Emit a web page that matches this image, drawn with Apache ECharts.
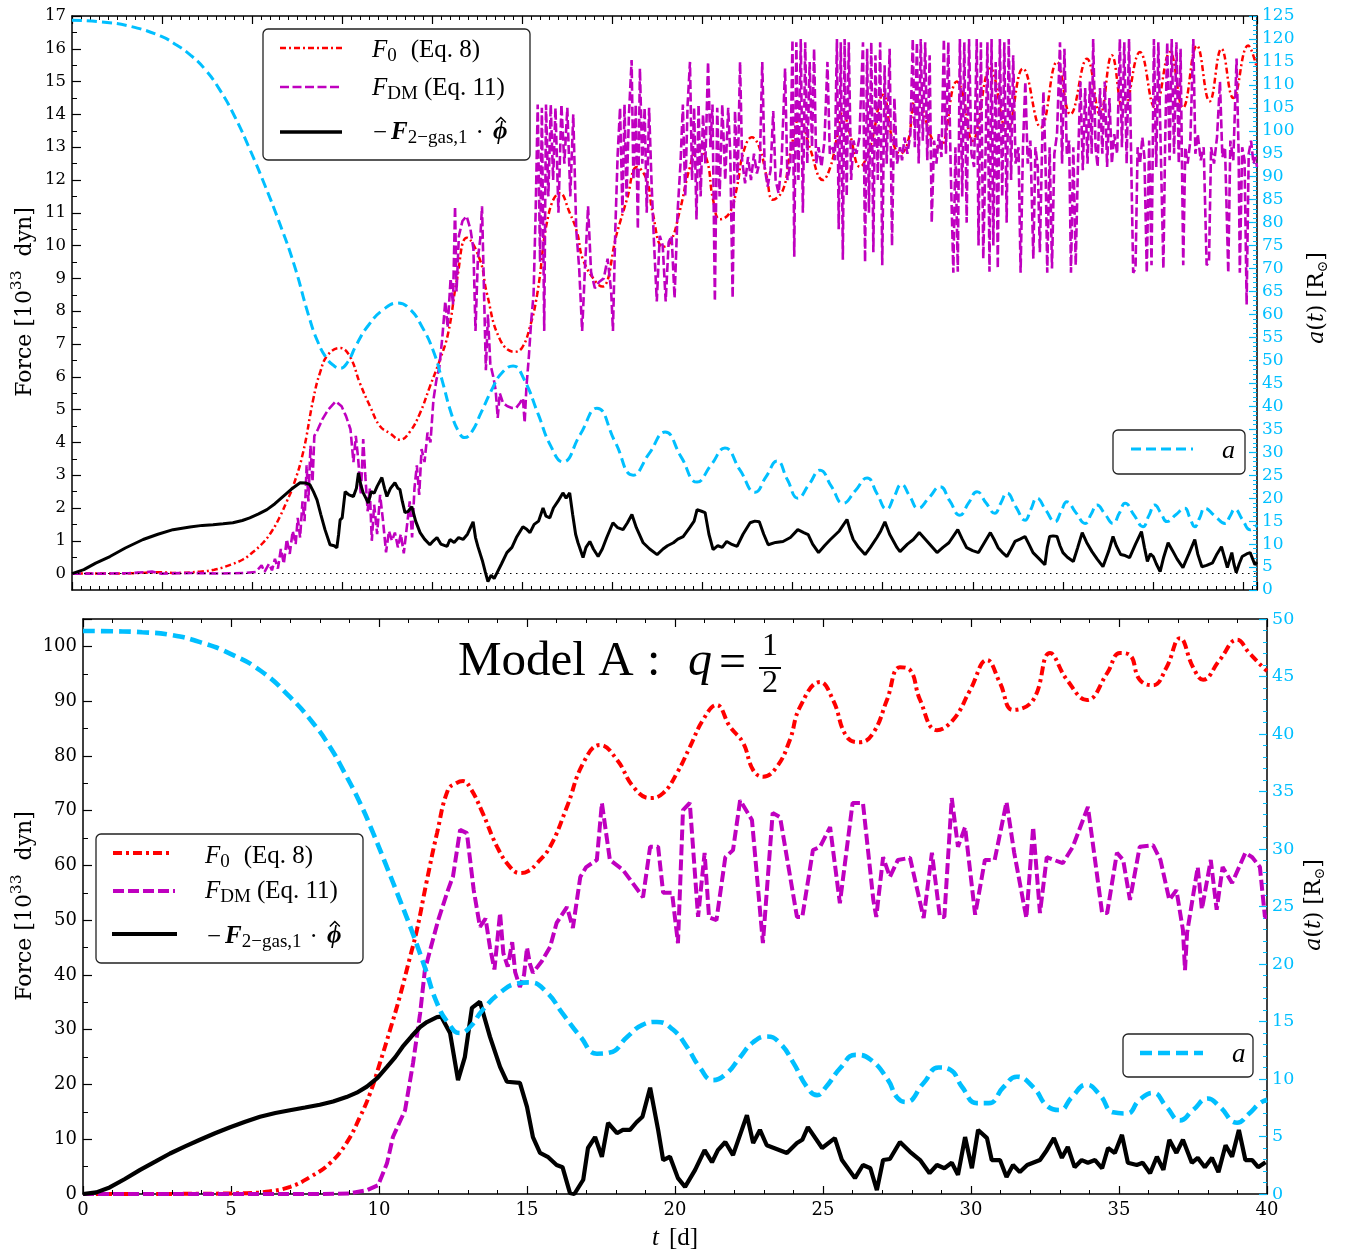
<!DOCTYPE html>
<html>
<head>
<meta charset="utf-8">
<script src="https://cdn.jsdelivr.net/npm/echarts@6/dist/echarts.min.js"></script>
<style>
  html, body { margin: 0; padding: 0; background: #fff; }
  #chart { width: 1346px; height: 1256px; }
</style>
</head>
<body>
<div id="chart"></div>
<script>
// ---------------- data: upper panel ----------------
// time t [d], separation a(t) [R_sun]
const topA = [[0,124.1],[1,123.7],[2,122.7],[3,120.6],[3.5,118.8],[4,116.5],[4.5,113.3],[5,108.8],[5.5,103.0],[6,96.0],[6.5,88.3],[7,80.0],[7.5,70.8],[8,59.5],[8.3,54.0],[8.6,50.4],[8.85,48.8],[9.05,48.3],[9.3,49.6],[9.6,53.4],[10,57.6],[10.5,61.0],[11,62.5],[11.4,61.2],[11.8,57.5],[12.2,52.0],[12.5,45.5],[12.8,38.5],[13.05,34.5],[13.25,33.2],[13.5,34.5],[13.8,38.5],[14.2,44.0],[14.5,47.2],[14.89,48.8],[15.25,46.0],[15.73,38.4],[16.15,31.5],[16.57,27.9],[17.15,33.8],[17.72,39.6],[18.33,32.3],[18.94,25.0],[19.48,29.7],[20.02,34.4],[20.56,29.0],[21.1,23.5],[21.57,27.2],[22.04,30.9],[22.55,26.1],[23.06,21.3],[23.43,24.7],[23.8,28.1],[24.15,24.0],[24.5,20.0],[24.88,23.0],[25.25,26.1],[25.64,22.5],[26.03,18.9],[26.44,21.6],[26.84,24.4],[27.17,21.0],[27.5,17.6],[27.75,20.3],[28.0,23.0],[28.28,20.4],[28.56,17.8],[28.93,20.1],[29.3,22.5],[29.63,19.4],[29.97,16.3],[30.26,18.9],[30.55,21.4],[30.85,19.0],[31.15,16.7],[31.35,18.9],[31.56,21.1],[31.86,18.1],[32.17,15.2],[32.37,17.6],[32.57,20.0],[32.87,17.4],[33.18,14.9],[33.38,17.0],[33.58,19.2],[33.89,16.8],[34.2,14.5],[34.4,16.5],[34.6,18.5],[34.87,16.5],[35.14,14.5],[35.35,16.7],[35.55,18.9],[35.85,16.3],[36.15,13.8],[36.35,16.2],[36.55,18.5],[36.76,16.7],[36.96,14.9],[37.26,16.4],[37.56,17.8],[37.73,15.8],[37.9,13.8],[38.07,15.8],[38.24,17.8],[38.58,16.1],[38.92,14.5],[39.09,16.1],[39.25,17.6],[39.51,15.3],[39.77,13.1],[40,14.2]];

// F_0 (Eq. 8) [1e33 dyn]
const topF0 = [[0,0],[1,0],[2,0.01],[3,0.04],[3.5,0.02],[4.32,0.06],[4.8,0.12],[5.2,0.22],[5.77,0.43],[6.1,0.65],[6.45,0.94],[6.75,1.3],[7.02,1.74],[7.25,2.2],[7.46,2.65],[7.8,3.69],[8.14,5.3],[8.37,6.12],[8.64,6.67],[9.05,6.88],[9.38,6.62],[9.72,5.8],[10.06,5.1],[10.4,4.49],[10.73,4.28],[11.07,4.08],[11.41,4.33],[11.75,4.9],[12.08,5.7],[12.42,6.52],[12.7,7.34],[13.0,9.0],[13.33,10.24],[13.77,9.57],[14.0,8.56],[14.45,7.13],[14.95,6.76],[15.2,6.9],[15.46,7.53],[15.7,8.5],[16.1,11.0],[16.47,11.6],[16.8,11.0],[17.05,10.4],[17.25,9.57],[17.7,8.87],[17.9,8.75],[18.4,10.4],[18.73,11.4],[19.07,12.4],[19.4,12.0],[19.6,11.0],[19.95,9.96],[20.2,10.1],[20.5,11.0],[20.86,12.4],[21.1,12.9],[21.4,12.7],[21.64,11.4],[21.87,10.8],[22.2,11.0],[22.45,11.8],[22.65,12.8],[22.95,13.3],[23.2,13.0],[23.45,12.1],[23.66,11.4],[24.0,11.7],[24.24,12.8],[24.57,13.9],[24.9,13.0],[25.35,12.0],[25.6,12.4],[25.8,13.2],[26.02,14.1],[26.26,13.4],[26.6,12.4],[26.94,13.0],[27.38,14.6],[27.7,13.2],[27.95,12.8],[28.2,13.1],[28.5,14.5],[29.1,13.1],[29.3,13.0],[29.87,15.0],[30.05,14.7],[30.4,13.2],[31.0,15.4],[31.56,13.5],[32.1,15.4],[32.7,13.6],[33.25,15.6],[33.7,14.0],[34.26,15.7],[34.7,14.0],[35.1,15.8],[35.5,14.1],[36.05,15.9],[36.56,14.2],[37.06,15.9],[37.5,14.2],[37.97,16.1],[38.4,14.4],[38.8,16.0],[39.2,14.5],[39.7,16.1],[40,15.4]];

// F_DM (Eq. 11) [1e33 dyn]
const topFDM = [[0,0],[1,0],[1.9,0.01],[2.7,0.06],[3.0,0],[4,0.02],[5,0],[5.8,0.02],[6.2,0.05],[6.4,0.25],[6.5,0.05],[6.65,0.3],[6.75,0.1],[6.85,0.45],[6.95,0.15],[7.05,0.75],[7.15,0.3],[7.25,1.05],[7.35,0.6],[7.45,1.3],[7.55,0.9],[7.62,1.7],[7.7,1.1],[7.78,2.2],[7.85,1.6],[7.92,3.3],[7.98,2.2],[8.05,3.9],[8.12,2.8],[8.18,4.2],[8.3,4.4],[8.45,4.7],[8.65,5.0],[8.9,5.25],[9.1,5.1],[9.25,4.8],[9.4,4.4],[9.5,3.4],[9.58,4.2],[9.66,3.5],[9.75,2.4],[9.83,4.1],[9.9,3.0],[9.98,1.9],[10.05,2.6],[10.12,1.0],[10.2,2.1],[10.3,1.2],[10.4,2.4],[10.5,1.6],[10.6,0.65],[10.7,1.3],[10.8,1.0],[10.9,1.25],[11.0,0.8],[11.1,1.2],[11.2,0.62],[11.3,1.4],[11.4,2.2],[11.48,1.1],[11.56,2.6],[11.64,3.3],[11.72,2.4],[11.8,3.8],[11.9,3.4],[12.0,4.3],[12.1,4.0],[12.2,5.3],[12.3,5.9],[12.4,6.3],[12.5,7.2],[12.6,8.3],[12.68,7.5],[12.78,9.0],[12.86,8.2],[12.93,11.2],[12.98,8.6],[13.06,10.3],[13.18,10.75],[13.32,10.9],[13.45,10.5],[13.55,9.9],[13.62,7.4],[13.7,9.6],[13.78,10.2],[13.84,11.2],[13.9,8.9],[13.97,6.2],[14.04,7.9],[14.12,6.4],[14.22,6.0],[14.3,5.6],[14.37,4.75],[14.44,5.5],[14.55,5.2],[14.7,5.1],[14.85,5.05],[15.0,5.06],[15.12,5.2],[15.22,5.35],[15.28,4.6],[15.34,5.7],[15.42,6.6],[15.5,7.7],[15.58,8.5],[15.65,11.0],[15.72,14.3],[15.8,9.5],[15.86,14.2],[15.94,7.4],[16.0,14.3],[16.08,11.5],[16.16,14.3],[16.24,12.0],[16.32,14.2],[16.42,11.0],[16.52,14.3],[16.62,12.5],[16.72,14.2],[16.82,11.5],[16.92,14.0],[17.02,10.5],[17.12,9.3],[17.22,7.4],[17.32,9.4],[17.42,11.2],[17.52,9.2],[17.65,8.7],[17.8,8.9],[17.95,9.0],[18.08,9.6],[18.2,8.6],[18.26,7.4],[18.34,10.5],[18.42,12.8],[18.5,14.2],[18.58,11.0],[18.65,14.3],[18.72,11.5],[18.8,14.0],[18.89,15.66],[18.95,12.0],[19.03,14.3],[19.1,10.5],[19.17,15.4],[19.25,12.5],[19.33,14.2],[19.4,11.0],[19.48,14.2],[19.56,12.0],[19.64,10.2],[19.74,8.3],[19.84,10.3],[19.94,10.0],[20.04,8.3],[20.14,10.1],[20.24,10.3],[20.34,8.4],[20.44,11.0],[20.54,12.5],[20.62,14.3],[20.7,11.5],[20.78,14.3],[20.86,15.6],[20.93,12.0],[21.0,14.2],[21.08,10.8],[21.15,14.3],[21.22,11.5],[21.3,14.0],[21.38,12.5],[21.47,15.6],[21.55,13.0],[21.62,14.3],[21.7,8.3],[21.78,14.2],[21.86,11.5],[21.95,14.3],[22.05,12.0],[22.15,14.2],[22.22,12.8],[22.3,8.4],[22.38,14.1],[22.47,12.0],[22.55,15.6],[22.62,12.6],[22.72,11.9],[22.82,12.7],[22.92,12.0],[23.02,12.8],[23.12,12.2],[23.22,12.6],[23.3,15.6],[23.38,12.4],[23.48,11.8],[23.58,12.3],[23.67,14.1],[23.75,12.0],[23.85,11.6],[23.95,12.5],[24.07,15.4],[24.15,12.0],[24.25,12.5],[24.32,16.27],[24.38,9.66],[24.45,16.2],[24.52,12.0],[24.6,16.3],[24.67,11.0],[24.75,16.2],[24.82,12.5],[24.9,15.6],[24.98,13.0],[25.05,16.0],[25.12,12.5],[25.2,13.0],[25.3,12.4],[25.4,13.2],[25.5,15.6],[25.58,12.8],[25.68,13.0],[25.75,12.6],[25.82,16.3],[25.88,10.5],[25.95,16.2],[26.02,9.57],[26.08,16.3],[26.15,11.5],[26.22,16.2],[26.3,12.0],[26.38,13.2],[26.48,12.8],[26.58,13.3],[26.7,16.2],[26.77,9.5],[26.84,16.0],[26.9,11.0],[26.98,16.2],[27.05,9.8],[27.12,15.8],[27.2,12.0],[27.28,16.2],[27.35,9.4],[27.43,15.5],[27.5,12.5],[27.6,16.0],[27.68,10.0],[27.76,14.5],[27.85,12.5],[27.95,13.0],[28.02,12.6],[28.1,13.3],[28.2,12.8],[28.3,13.4],[28.38,16.3],[28.45,13.0],[28.52,16.2],[28.58,12.5],[28.65,16.3],[28.72,13.2],[28.8,16.2],[28.87,12.6],[28.95,15.8],[29.02,10.7],[29.1,13.2],[29.18,12.5],[29.26,13.4],[29.35,12.7],[29.43,16.3],[29.5,12.8],[29.58,16.2],[29.66,12.4],[29.75,9.17],[29.82,13.0],[29.9,9.2],[29.97,16.3],[30.05,11.5],[30.12,16.2],[30.2,10.7],[30.28,16.3],[30.36,12.8],[30.45,12.4],[30.54,16.3],[30.6,10.0],[30.68,16.2],[30.76,9.6],[30.84,13.0],[30.9,16.2],[30.97,9.2],[31.04,16.3],[31.1,10.0],[31.18,15.6],[31.25,9.3],[31.32,16.3],[31.4,11.5],[31.47,16.2],[31.55,10.7],[31.62,16.3],[31.7,12.0],[31.77,15.8],[31.85,12.5],[31.95,13.0],[32.02,9.17],[32.1,13.0],[32.18,15.0],[32.26,12.5],[32.35,13.2],[32.45,9.6],[32.52,13.0],[32.6,12.4],[32.67,9.8],[32.75,13.2],[32.79,14.7],[32.86,12.6],[32.92,9.17],[33.0,13.0],[33.08,9.3],[33.16,12.8],[33.25,13.4],[33.35,16.2],[33.42,12.5],[33.5,16.0],[33.58,12.8],[33.66,13.2],[33.72,9.17],[33.8,13.0],[33.88,9.4],[33.96,12.6],[34.04,15.0],[34.12,12.3],[34.2,14.8],[34.28,12.5],[34.36,15.0],[34.42,12.8],[34.47,16.3],[34.55,13.0],[34.62,12.4],[34.7,14.8],[34.78,12.8],[34.86,15.0],[34.94,12.4],[35.02,14.5],[35.1,12.5],[35.18,13.4],[35.28,12.8],[35.37,16.3],[35.44,13.0],[35.52,16.2],[35.6,12.5],[35.68,16.3],[35.75,12.8],[35.82,9.17],[35.9,9.3],[35.97,13.0],[36.05,12.5],[36.13,13.3],[36.2,12.7],[36.28,9.17],[36.36,13.2],[36.44,9.4],[36.52,16.3],[36.6,12.4],[36.67,16.2],[36.75,13.0],[36.84,9.3],[36.9,13.2],[36.97,16.2],[37.05,12.6],[37.12,16.3],[37.2,12.8],[37.28,16.2],[37.36,12.5],[37.42,16.0],[37.51,9.4],[37.58,13.0],[37.66,12.5],[37.75,13.2],[37.85,16.3],[37.92,12.8],[38.0,13.4],[38.1,12.6],[38.2,13.0],[38.3,9.4],[38.38,9.5],[38.45,13.0],[38.55,12.5],[38.65,13.3],[38.75,15.0],[38.83,12.7],[38.92,13.0],[39.03,9.17],[39.1,13.2],[39.2,12.6],[39.31,15.7],[39.38,12.8],[39.42,9.17],[39.5,13.0],[39.58,12.6],[39.65,8.2],[39.72,12.8],[39.8,13.2],[39.88,12.5],[39.95,12.7],[40,12.4]];

// -F_{2-gas,1} . phi-hat [1e33 dyn]
const topFgas = [[0,0],[0.4,0.12],[0.8,0.32],[1.28,0.52],[1.8,0.78],[2.4,1.04],[2.9,1.2],[3.41,1.34],[3.98,1.42],[4.4,1.47],[4.76,1.49],[5.1,1.52],[5.43,1.55],[5.75,1.62],[6.0,1.7],[6.3,1.82],[6.58,1.95],[6.85,2.13],[7.12,2.35],[7.4,2.57],[7.7,2.77],[7.9,2.76],[8.03,2.71],[8.15,2.5],[8.27,2.25],[8.4,1.8],[8.54,1.34],[8.71,0.88],[8.85,0.85],[8.94,0.79],[9.0,1.2],[9.05,1.64],[9.12,1.7],[9.22,2.5],[9.35,2.4],[9.5,2.35],[9.6,2.6],[9.67,3.07],[9.75,2.7],[9.83,2.46],[9.92,2.3],[10.0,2.15],[10.1,2.5],[10.2,2.45],[10.3,2.66],[10.46,2.93],[10.55,2.6],[10.63,2.35],[10.75,2.6],[10.9,2.77],[11.0,2.6],[11.07,2.56],[11.15,2.2],[11.24,1.86],[11.35,1.9],[11.47,2.04],[11.6,1.6],[11.75,1.25],[11.9,1.05],[12.08,0.88],[12.2,1.0],[12.32,1.1],[12.45,0.9],[12.66,0.83],[12.76,1.04],[12.9,0.95],[13.05,1.1],[13.2,1.04],[13.35,1.2],[13.54,1.58],[13.62,1.1],[13.7,0.83],[13.85,0.4],[13.95,0.05],[14.04,-0.24],[14.15,-0.05],[14.25,-0.15],[14.35,0.03],[14.5,0.3],[14.68,0.64],[14.85,0.8],[15.0,1.1],[15.22,1.43],[15.35,1.35],[15.46,1.25],[15.6,1.5],[15.75,1.6],[15.9,2.0],[16.0,1.75],[16.13,1.7],[16.25,2.0],[16.4,2.2],[16.57,2.46],[16.68,2.3],[16.8,2.46],[16.9,1.8],[17.0,1.2],[17.08,0.94],[17.25,0.49],[17.35,0.8],[17.48,0.98],[17.6,0.75],[17.76,0.52],[17.9,0.75],[18.05,1.1],[18.26,1.55],[18.42,1.4],[18.6,1.34],[18.75,1.55],[18.9,1.8],[19.05,1.4],[19.28,0.94],[19.5,0.75],[19.75,0.58],[19.95,0.75],[20.1,0.85],[20.3,0.94],[20.45,1.05],[20.63,1.13],[20.85,1.4],[21.0,1.6],[21.1,1.95],[21.25,1.9],[21.37,1.86],[21.5,1.2],[21.64,0.73],[21.8,0.85],[21.95,0.8],[22.1,0.98],[22.25,0.9],[22.45,0.83],[22.65,1.2],[22.89,1.55],[23.05,1.6],[23.2,1.58],[23.35,1.2],[23.5,0.88],[23.75,0.95],[24.0,0.98],[24.25,1.1],[24.5,1.34],[24.7,1.25],[24.85,1.19],[25.0,0.9],[25.2,0.64],[25.4,0.85],[25.6,1.04],[25.9,1.3],[26.16,1.65],[26.27,1.3],[26.37,1.04],[26.55,0.8],[26.77,0.58],[26.95,0.8],[27.17,1.1],[27.3,1.3],[27.44,1.58],[27.6,1.2],[27.85,0.79],[27.95,0.67],[28.2,0.9],[28.4,1.04],[28.6,1.25],[28.9,0.95],[29.2,0.64],[29.4,0.8],[29.6,0.94],[29.9,1.34],[30.05,1.05],[30.2,0.79],[30.4,0.7],[30.6,0.64],[30.8,0.95],[31.0,1.25],[31.15,1.0],[31.26,0.79],[31.4,0.65],[31.56,0.52],[31.7,0.75],[31.83,0.98],[32.0,1.05],[32.17,1.13],[32.3,0.9],[32.44,0.64],[32.65,0.45],[32.84,0.27],[32.92,0.8],[33.0,1.13],[33.12,1.15],[33.25,1.13],[33.35,0.85],[33.45,0.64],[33.6,0.5],[33.8,0.37],[33.95,0.8],[34.1,1.25],[34.25,0.95],[34.43,0.67],[34.6,0.45],[34.8,0.21],[35.0,0.7],[35.14,1.13],[35.25,0.85],[35.4,0.58],[35.55,0.55],[35.7,0.49],[35.9,0.9],[36.1,1.28],[36.2,0.8],[36.3,0.37],[36.4,0.6],[36.5,0.52],[36.6,0.3],[36.73,0.06],[36.85,0.5],[37.0,0.94],[37.15,0.7],[37.3,0.45],[37.5,0.18],[37.7,0.6],[37.9,1.04],[38.0,0.6],[38.14,0.21],[38.3,0.25],[38.5,0.33],[38.65,0.6],[38.8,0.82],[38.9,0.5],[39.0,0.18],[39.15,0.64],[39.22,0.3],[39.3,0.03],[39.4,0.3],[39.5,0.52],[39.65,0.6],[39.77,0.64],[39.93,0.27],[40,0.35]];

// ---------------- data: lower panel (Model A, q = 1/2) ----------------
const botA = [[0,48.96],[1,48.93],[2,48.85],[3,48.6],[4,47.95],[5,46.95],[6,45.5],[7,43.2],[7.77,40.96],[8.34,38.9],[8.78,36.9],[9.36,34.0],[9.8,31.4],[10.27,28.4],[10.7,25.6],[11.15,22.6],[11.55,19.7],[11.96,16.6],[12.33,14.9],[12.74,14.0],[13.07,14.5],[13.5,16.0],[14.09,17.5],[14.66,18.3],[15.1,18.4],[15.68,17.5],[16.2,15.7],[16.8,13.7],[17.36,12.2],[17.8,12.3],[18.4,13.7],[18.9,14.7],[19.39,14.96],[19.93,14.3],[20.4,12.8],[20.84,11.0],[21.28,9.9],[21.75,10.5],[22.2,11.9],[22.64,13.2],[23.1,13.7],[23.55,13.1],[24.0,11.4],[24.46,9.3],[24.8,8.6],[25.1,9.3],[25.6,11.0],[26.1,12.1],[26.6,11.7],[27.2,9.9],[27.5,8.4],[27.8,8.0],[28.4,9.65],[28.9,11.0],[29.3,10.8],[29.7,9.3],[30.2,7.9],[30.6,7.9],[31.1,9.3],[31.55,10.2],[32.1,9.3],[32.6,7.6],[33.0,7.3],[33.4,8.4],[33.9,9.5],[34.36,8.6],[34.8,7.1],[35.26,7.0],[35.7,8.2],[36.15,8.8],[36.6,7.6],[37.06,6.4],[37.5,7.3],[38.0,8.3],[38.4,7.6],[38.99,6.2],[39.4,7.0],[39.76,7.9],[40,8.2]];

const botF0 = [[0,0],[2,0],[4,0.05],[5,0.1],[5.7,0.2],[6.2,0.4],[7.0,1.3],[7.67,3.1],[8.34,5.6],[8.9,9.3],[9.36,14.1],[9.7,18.4],[10.03,23.9],[10.37,29.9],[10.7,36.0],[11.05,43.3],[11.28,48.2],[11.6,56.8],[11.96,65.9],[12.33,73.8],[12.6,75.0],[12.84,75.4],[13.1,74.0],[13.5,69.6],[13.99,63.4],[14.43,59.7],[14.76,58.6],[15.05,59.0],[15.34,60.4],[15.78,63.4],[16.35,70.7],[16.9,78.7],[17.47,82.0],[18.04,79.3],[18.6,74.3],[19.16,72.3],[19.6,73.2],[20.07,76.9],[20.5,81.6],[20.95,86.6],[21.4,89.3],[21.86,85.3],[22.3,82.4],[22.64,77.4],[22.98,76.2],[23.44,78.0],[23.88,82.9],[24.22,88.9],[24.9,93.5],[25.34,90.2],[25.8,83.5],[26.25,82.5],[26.7,84.2],[27.16,90.2],[27.6,96.2],[27.94,95.7],[28.28,90.2],[28.85,84.7],[29.4,86.6],[29.97,92.0],[30.54,97.5],[30.98,93.3],[31.42,88.4],[32.1,90.2],[32.67,98.8],[33.24,93.9],[33.92,90.2],[34.6,95.1],[35.03,98.8],[35.37,98.4],[35.7,93.9],[36.15,92.9],[36.6,96.1],[37.06,101.5],[37.5,96.2],[37.84,93.9],[38.4,97.5],[38.99,101.2],[39.4,98.8],[39.86,96.2],[40,95.5]];

const botFDM = [[0,0],[3,0],[6,0],[8,0],[9.0,0.1],[9.6,0.7],[9.97,1.6],[10.27,5.6],[10.47,10.4],[10.88,15.3],[11.15,23.9],[11.39,33.0],[11.55,40.9],[11.75,45.0],[12.0,50.0],[12.33,55.5],[12.5,58.0],[12.74,66.5],[12.97,65.9],[13.2,55.5],[13.41,48.8],[13.6,50.3],[13.75,45.0],[13.9,41.0],[14.09,51.3],[14.2,44.0],[14.35,41.5],[14.5,46.0],[14.6,40.5],[14.76,37.8],[14.9,40.0],[15.0,45.0],[15.1,42.0],[15.2,40.4],[15.5,42.5],[15.78,45.1],[16.0,49.5],[16.35,52.4],[16.55,48.6],[16.8,57.9],[17.0,59.7],[17.36,61.0],[17.53,71.4],[17.8,61.0],[18.24,59.2],[18.92,54.2],[19.16,63.4],[19.43,63.4],[19.6,55.0],[19.9,55.0],[20.1,45.8],[20.27,70.1],[20.5,71.4],[20.78,50.6],[21.0,62.3],[21.15,50.5],[21.4,50.0],[21.7,61.5],[21.96,62.8],[22.2,71.9],[22.6,68.3],[22.97,45.8],[23.3,69.6],[23.55,68.8],[24.12,50.6],[24.3,50.6],[24.66,62.8],[24.9,63.4],[25.24,67.0],[25.57,53.1],[26.0,71.4],[26.35,71.4],[26.7,53.7],[26.8,50.6],[27.03,61.5],[27.26,57.9],[27.53,61.0],[27.94,61.4],[28.4,50.4],[28.68,62.3],[28.95,50.6],[29.1,50.6],[29.35,72.3],[29.56,63.4],[29.8,67.0],[30.14,51.0],[30.47,61.0],[30.8,61.0],[31.2,71.6],[31.46,62.3],[31.87,50.4],[32.1,67.0],[32.33,51.3],[32.56,61.5],[33.1,60.4],[33.44,63.4],[33.95,70.7],[34.43,51.3],[34.6,51.3],[34.93,62.3],[35.14,61.0],[35.37,53.7],[35.7,63.4],[36.15,63.7],[36.4,61.0],[36.7,53.7],[36.94,55.5],[37.16,48.2],[37.23,40.9],[37.3,47.7],[37.66,59.7],[37.8,52.0],[38.1,61.0],[38.3,51.9],[38.5,59.7],[38.82,56.8],[39.27,62.3],[39.5,61.5],[39.76,59.7],[39.93,50.6],[40,50.6]];

const botFgas = [[0,0],[0.45,0.3],[0.9,1.2],[1.4,2.7],[1.93,4.4],[2.44,5.9],[2.94,7.4],[3.45,8.7],[3.95,9.9],[4.46,11.1],[4.97,12.2],[5.48,13.2],[5.98,14.1],[6.5,14.8],[6.99,15.3],[7.5,15.8],[8.0,16.3],[8.45,16.9],[8.9,17.7],[9.25,18.5],[9.59,19.6],[9.95,21.2],[10.27,23.2],[10.55,25.0],[10.8,26.9],[11.1,28.8],[11.39,30.5],[11.62,31.4],[11.96,32.3],[12.1,32.4],[12.4,29.4],[12.67,20.8],[12.9,25.0],[13.14,34.0],[13.41,35.1],[13.75,28.7],[14.09,23.2],[14.32,20.5],[14.76,20.3],[15.0,15.9],[15.2,10.4],[15.44,7.5],[15.7,6.8],[16.0,5.3],[16.2,4.9],[16.45,0.2],[16.6,0],[16.9,2.6],[17.06,8.4],[17.3,10.4],[17.53,6.8],[17.74,13.0],[18.04,11.1],[18.24,11.7],[18.48,11.7],[18.7,13.1],[18.9,14.1],[19.16,19.4],[19.43,11.7],[19.6,6.2],[19.83,6.8],[20.1,2.9],[20.34,1.3],[20.68,4.4],[21.0,8.0],[21.25,5.8],[21.45,8.0],[21.7,9.5],[21.96,7.1],[22.43,14.4],[22.64,9.3],[22.87,11.7],[23.1,8.9],[23.78,7.5],[24.12,9.3],[24.3,9.9],[24.49,12.2],[24.97,8.4],[25.4,10.2],[25.64,6.2],[26.08,2.9],[26.35,5.3],[26.6,4.7],[26.82,0.7],[27.03,6.2],[27.26,6.4],[27.6,9.5],[27.94,7.7],[28.28,6.2],[28.6,3.8],[28.85,5.3],[29.1,4.7],[29.35,5.7],[29.56,3.5],[29.8,10.4],[30.03,4.7],[30.24,11.7],[30.54,10.2],[30.7,6.2],[30.98,6.2],[31.2,3.1],[31.42,5.3],[31.65,4.0],[31.9,5.3],[32.33,6.2],[32.56,8.0],[32.8,10.2],[33.07,6.6],[33.27,8.6],[33.5,4.9],[33.74,6.2],[33.95,5.7],[34.19,6.2],[34.43,4.7],[34.63,8.4],[34.86,7.5],[35.1,10.8],[35.3,5.7],[35.6,5.3],[35.8,5.7],[36.05,3.8],[36.28,6.8],[36.5,4.4],[36.7,9.9],[36.94,7.5],[37.16,9.9],[37.46,5.7],[37.66,6.6],[37.9,4.9],[38.14,6.6],[38.36,4.0],[38.6,8.9],[38.82,6.8],[39.05,11.7],[39.27,6.2],[39.5,6.2],[39.7,4.9],[39.95,5.8]];

// ---------------- ticks ----------------
const topForceTicks = [0,1,2,3,4,5,6,7,8,9,10,11,12,13,14,15,16,17];
const topForceMinor = [0.5,1.5,2.5,3.5,4.5,5.5,6.5,7.5,8.5,9.5,10.5,11.5,12.5,13.5,14.5,15.5,16.5];
const TOP_T_STEP = 3.0406;   // major tick spacing of the upper time axis [d]

// ---------------- style ----------------
const SERIF = 'DejaVu Serif';        // tick labels and axis names
const MATH = 'Liberation Serif';     // legend entries and title
const CYAN = '#00bfff', RED = '#ff0000', MAG = '#bf00bf', BLK = '#000000';
const G0 = { left: 72, top: 16, width: 1185, height: 574 };
const G1 = { left: 83, top: 619, width: 1184, height: 575 };

function xAxisDef(grid, pos, labels, interval, minorSplit) {
  return {
    gridIndex: grid, type: 'value', position: pos, min: 0, max: 40, interval: interval,
    axisLine: { show: true, onZero: false, lineStyle: { color: BLK, width: 1.5 } },
    axisTick: { show: true, inside: true, length: 8, lineStyle: { color: BLK, width: 1.2 } },
    minorTick: { show: true, splitNumber: minorSplit, length: 4, lineStyle: { color: BLK, width: 1 } },
    axisLabel: { show: labels, fontFamily: SERIF, fontSize: 18, color: BLK, margin: 7 },
    splitLine: { show: false }, minorSplitLine: { show: false }
  };
}
function aAxisDef(grid, max, fontSize) {
  return {
    gridIndex: grid, type: 'value', position: 'right', min: 0, max: max, interval: 5,
    axisLine: { show: true, onZero: false, lineStyle: { color: BLK, width: 1.5 } },
    axisTick: { show: true, inside: true, length: 8, lineStyle: { color: CYAN, width: 1.2 } },
    minorTick: { show: true, splitNumber: 5, length: 4, lineStyle: { color: CYAN, width: 1 } },
    axisLabel: { fontFamily: SERIF, fontSize: fontSize, color: CYAN, margin: 5 },
    splitLine: { show: false }
  };
}

const option = {
  animation: false,
  backgroundColor: '#fff',
  grid: [
    Object.assign({ containLabel: false }, G0),
    Object.assign({ containLabel: false }, G1),
    Object.assign({ containLabel: false }, G0)
  ],
  xAxis: [
    xAxisDef(0, 'bottom', false, TOP_T_STEP, 10),
    xAxisDef(0, 'top', false, TOP_T_STEP, 10),
    xAxisDef(1, 'bottom', true, 5, 5),
    xAxisDef(1, 'top', false, 5, 5),
    { gridIndex: 2, type: 'value', min: 0, max: 40, show: false }
  ],
  yAxis: [
    { gridIndex: 0, type: 'value', position: 'left', min: -0.5, max: 17, interval: 0.5,
      axisLine: { show: true, onZero: false, lineStyle: { color: BLK, width: 1.5 } },
      axisTick: { show: true, inside: true, length: 9, customValues: topForceTicks, lineStyle: { color: BLK, width: 1.2 } },
      axisLabel: { fontFamily: SERIF, fontSize: 16.5, color: BLK, margin: 6, customValues: topForceTicks },
      splitLine: { show: false } },
    aAxisDef(0, 125, 17),
    { gridIndex: 1, type: 'value', position: 'left', min: 0, max: 105, interval: 10,
      axisLine: { show: true, onZero: false, lineStyle: { color: BLK, width: 1.5 } },
      axisTick: { show: true, inside: true, length: 9, lineStyle: { color: BLK, width: 1.2 } },
      minorTick: { show: true, splitNumber: 2, length: 5, lineStyle: { color: BLK, width: 1 } },
      axisLabel: { fontFamily: SERIF, fontSize: 18, color: BLK, margin: 6, showMaxLabel: false },
      splitLine: { show: false } },
    aAxisDef(1, 50, 17.5),
    { gridIndex: 2, type: 'value', position: 'left', min: -0.5, max: 17, interval: 0.5,
      axisLine: { show: false, onZero: false },
      axisTick: { show: true, inside: true, length: 5, customValues: topForceMinor, lineStyle: { color: BLK, width: 1 } },
      axisLabel: { show: false }, splitLine: { show: false } }
  ],
  series: [
    // upper panel
    { type: 'line', xAxisIndex: 0, yAxisIndex: 0, data: topF0, symbol: 'none', smooth: 0.45, z: 2,
      lineStyle: { color: RED, width: 2.5, type: [6, 3, 2, 3] },
      markLine: { silent: true, symbol: ['none', 'none'], label: { show: false },
        lineStyle: { color: BLK, width: 1.2, type: [1.5, 4.5] }, data: [{ yAxis: 0 }] } },
    { type: 'line', xAxisIndex: 0, yAxisIndex: 0, data: topFDM, symbol: 'none', z: 3,
      lineStyle: { color: MAG, width: 2.6, type: [9, 3.5] } },
    { type: 'line', xAxisIndex: 0, yAxisIndex: 0, data: topFgas, symbol: 'none', z: 4,
      lineStyle: { color: BLK, width: 3 } },
    { type: 'line', xAxisIndex: 0, yAxisIndex: 1, data: topA, symbol: 'none', smooth: 0.5, z: 5,
      lineStyle: { color: CYAN, width: 3, type: [10, 5] } },
    // lower panel
    { type: 'line', xAxisIndex: 2, yAxisIndex: 2, data: botF0, symbol: 'none', smooth: 0.45, z: 2,
      lineStyle: { color: RED, width: 4, type: [9, 4, 3, 4] } },
    { type: 'line', xAxisIndex: 2, yAxisIndex: 2, data: botFDM, symbol: 'none', z: 3,
      lineStyle: { color: MAG, width: 4, type: [11, 4] } },
    { type: 'line', xAxisIndex: 2, yAxisIndex: 2, data: botFgas, symbol: 'none', z: 4,
      lineStyle: { color: BLK, width: 4.2 } },
    { type: 'line', xAxisIndex: 2, yAxisIndex: 3, data: botA, symbol: 'none', smooth: 0.5, z: 5,
      lineStyle: { color: CYAN, width: 4.6, type: [12, 6] } }
  ],
  graphic: []
};

// ---------------- text runs (legends, title, axis names) ----------------
const measureCtx = document.createElement('canvas').getContext('2d');
function tokenFont(t) {
  return (t.style || 'normal') + ' ' + (t.weight || 'normal') + ' ' + t.size + 'px "' + (t.family || MATH) + '"';
}
// Lays out tokens left to right from (0,0); returns the elements and the total advance.
function run(tokens) {
  let x = 0; const els = [];
  tokens.forEach(function (t) {
    if (t.gap) { x += t.gap; return; }
    measureCtx.font = tokenFont(t);
    const w = measureCtx.measureText(t.text).width;
    const y = t.dy || 0;
    els.push({ type: 'text', x: x, y: y, z: 120,
      style: { text: t.text, fontFamily: t.family || MATH, fontSize: t.size, fontStyle: t.style || 'normal',
        fontWeight: t.weight || 'normal', fill: BLK, align: 'left', verticalAlign: 'middle' } });
    if (t.hat) {
      const cx = x + w * 0.55, hy = y - t.size * 0.62;
      els.push({ type: 'polyline', z: 120, shape: { points: [[cx - 5, hy + 5], [cx, hy], [cx + 5, hy + 5]] },
        style: { stroke: BLK, lineWidth: 1.5, fill: null } });
    }
    x += w;
  });
  return { els: els, width: x };
}
function place(x, y, tokens, opt) {
  opt = opt || {};
  const r = run(tokens);
  const dx = opt.center ? -r.width / 2 : 0;
  r.els.forEach(function (e) { e.x += dx; });
  return { type: 'group', x: x, y: y, rotation: opt.rot || 0, z: 120, children: r.els };
}
function box(x, y, w, h) {
  return { type: 'rect', z: 110, shape: { x: x, y: y, width: w, height: h, r: 5 },
    style: { fill: '#fff', stroke: '#222', lineWidth: 1.3 } };
}
function sample(x1, x2, y, color, width, dash) {
  return { type: 'line', z: 115, shape: { x1: x1, y1: y, x2: x2, y2: y },
    style: { stroke: color, lineWidth: width, lineDash: dash || null } };
}
function legendRows(s, sub) {
  return {
    f0: [{ text: 'F', size: s, style: 'italic' }, { text: '0', size: sub, dy: 6 }, { gap: 14 }, { text: '(Eq. 8)', size: s }],
    dm: [{ text: 'F', size: s, style: 'italic' }, { text: 'DM', size: sub, dy: 6 }, { gap: 6 }, { text: '(Eq. 11)', size: s }],
    gas: [{ text: '−', size: s }, { gap: 4 }, { text: 'F', size: s, style: 'italic', weight: 'bold' },
          { text: '2−gas,1', size: sub, dy: 5 }, { gap: 8 }, { text: '·', size: s }, { gap: 9 },
          { text: 'ϕ', size: s, style: 'italic', weight: 'bold', hat: true }]
  };
}
const LT = legendRows(25, 19);
const LB = legendRows(25, 19);

const axisForce = [{ text: 'Force [10', size: 22, family: SERIF }, { text: '33', size: 15.5, family: SERIF, dy: -8 },
                   { gap: 14 }, { text: 'dyn]', size: 22, family: SERIF }];
const axisSep = [{ text: 'a', size: 22, family: SERIF, style: 'italic' }, { text: '(', size: 22, family: SERIF },
                 { text: 't', size: 22, family: SERIF, style: 'italic' }, { text: ') [R', size: 22, family: SERIF },
                 { text: '⊙', size: 14, family: SERIF, dy: 6 }, { text: ']', size: 22, family: SERIF }];

option.graphic = [
  // upper panel legend
  box(263, 29, 267, 131),
  sample(280, 342, 48, RED, 2.5, [6, 3, 2, 3]),
  sample(280, 342, 87, MAG, 2.6, [9, 3.5]),
  sample(280, 342, 132, BLK, 3.5),
  place(372, 50, LT.f0),
  place(372, 88, LT.dm),
  place(373, 133, LT.gas),
  box(1113, 430, 132, 44),
  sample(1131, 1193, 449, CYAN, 3, [10, 5]),
  place(1222, 451, [{ text: 'a', size: 26, style: 'italic' }]),
  // lower panel legend
  box(96, 834, 267, 129),
  sample(113, 173, 853, RED, 4, [9, 4, 3, 4]),
  sample(113, 175, 891, MAG, 4, [11, 4]),
  sample(112, 177, 934, BLK, 4.2),
  place(205, 856, LB.f0),
  place(205, 891, LB.dm),
  place(207, 937, LB.gas),
  box(1123, 1034, 130, 43),
  sample(1140, 1203, 1053, CYAN, 4.6, [12, 6]),
  place(1232, 1055, [{ text: 'a', size: 27, style: 'italic' }]),
  // model title
  place(458, 662, [{ text: 'Model A', size: 49 }]),
  place(647, 662, [{ text: ':', size: 48 }]),
  place(688, 662, [{ text: 'q', size: 48, style: 'italic' }]),
  place(719, 664, [{ text: '=', size: 48 }]),
  place(770, 647, [{ text: '1', size: 32 }], { center: true }),
  { type: 'line', z: 120, shape: { x1: 759, y1: 668, x2: 781, y2: 668 }, style: { stroke: BLK, lineWidth: 2 } },
  place(770, 684, [{ text: '2', size: 32 }], { center: true }),
  // axis names
  place(25, 302, axisForce, { rot: Math.PI / 2, center: true }),
  place(25, 906, axisForce, { rot: Math.PI / 2, center: true }),
  place(1317, 298, axisSep, { rot: Math.PI / 2, center: true }),
  place(1314, 905, axisSep, { rot: Math.PI / 2, center: true }),
  place(675, 1238, [{ text: 't', size: 25, style: 'italic' }, { gap: 10 }, { text: '[d]', size: 25 }], { center: true })
];

const chart = echarts.init(document.getElementById('chart'), null, { renderer: 'canvas' });
chart.setOption(option);
</script>
</body>
</html>
